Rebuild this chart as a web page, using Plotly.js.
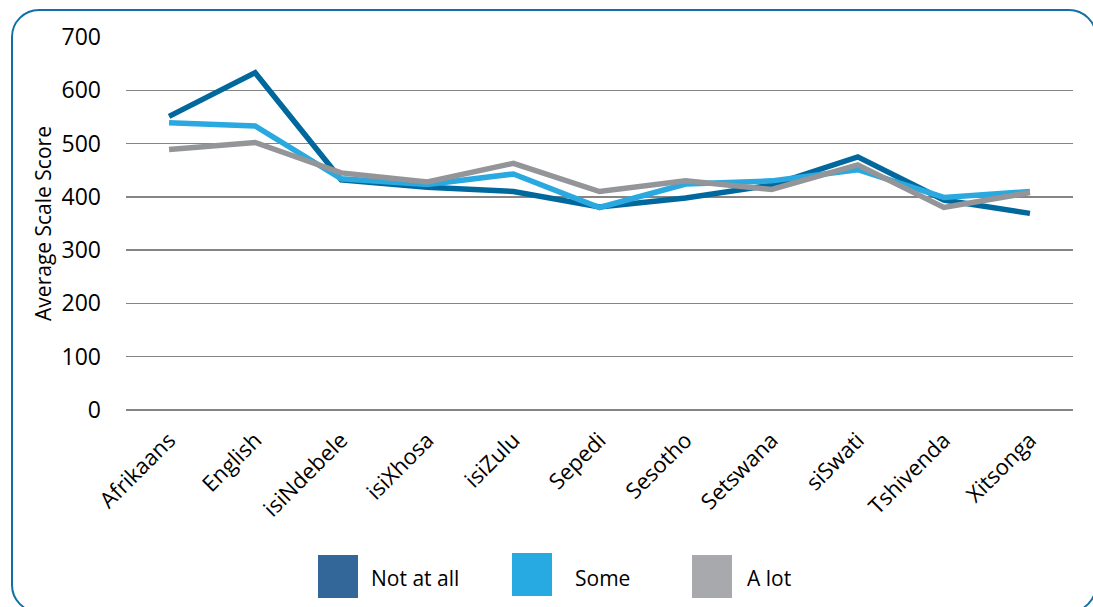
<!DOCTYPE html>
<html>
<head>
<meta charset="utf-8">
<script src="https://cdn.plot.ly/plotly-3.0.1.min.js"></script>
<style>
  html, body { margin: 0; padding: 0; background: #fff; overflow: hidden; }
  #frame { position: absolute; left: 11px; top: 9px; width: 1082px; height: 600px;
           border: 2.5px solid #1170A6; border-radius: 28px; }
  #chart { position: absolute; left: 0; top: 0; width: 1093px; height: 607px; }
</style>
</head>
<body>
<div id="frame"></div>
<div id="chart"></div>
<script>
const categories = ["Afrikaans", "English", "isiNdebele", "isiXhosa", "isiZulu", "Sepedi",
                    "Sesotho", "Setswana", "siSwati", "Tshivenda", "Xitsonga"];
const notAtAll = [551, 633, 432, 418, 410, 381, 398, 422, 475, 394, 369];
const some     = [539, 533, 434, 423, 443, 380, 424, 430, 451, 399, 410];
const aLot     = [489, 502, 445, 428, 463, 410, 430, 414, 460, 380, 408];
const seriesNames = ["Not at all", "Some", "A lot"];
const lineColors = ["#00689D", "#29A9E0", "#939598"];
const swatchColors = ["#336699", "#27AAE1", "#A7A9AC"];
const yTicks = [0, 100, 200, 300, 400, 500, 600, 700];

const font = "Open Sans, Noto Sans, sans-serif";
const seriesValues = [notAtAll, some, aLot];
const traces = seriesValues.map((vals, i) => ({
  type: "scatter", mode: "lines", x: categories, y: vals, name: seriesNames[i],
  line: { color: lineColors[i], width: 5.5 }, showlegend: false, hoverinfo: "skip"
}));

// Custom legend with large square swatches (paper coordinates)
const W = 1093, H = 607;
const legendSwatchX = [318, 512, 692];
const legendSwatchY = [555, 553, 555];
const legendTextX = [369, 573, 745];
const shapes = [], annotations = [];
for (let i = 0; i < 3; i++) {
  shapes.push({ type: "rect", xref: "paper", yref: "paper",
    x0: (legendSwatchX[i] - 126) / (1073 - 126), x1: (legendSwatchX[i] + 40 - 126) / (1073 - 126),
    y0: (410 - legendSwatchY[i]) / (410 - 37), y1: (410 - legendSwatchY[i] - 43) / (410 - 37),
    fillcolor: swatchColors[i], line: { width: 0 } });
  annotations.push({ xref: "paper", yref: "paper",
    x: (legendTextX[i] - 126) / (1073 - 126), y: (410 - 578) / (410 - 37),
    xanchor: "left", yanchor: "middle", showarrow: false, text: seriesNames[i],
    font: { family: font, size: 21, color: "#000" } });
}

const layout = {
  width: W, height: H,
  margin: { l: 126, r: 20, t: 37, b: 197 },
  paper_bgcolor: "rgba(0,0,0,0)", plot_bgcolor: "rgba(0,0,0,0)",
  xaxis: { type: "category", tickangle: -45, showgrid: false, zeroline: false,
    showline: false, ticks: "", ticklabelstandoff: 12,
    tickfont: { family: font, size: 22, color: "#000" },
    range: [-0.5, categories.length - 0.5], fixedrange: true },
  yaxis: { range: [0, 700], tickvals: yTicks, ticktext: yTicks.map(String),
    showgrid: true, gridcolor: "#858585", gridwidth: 1.5, zeroline: true,
    zerolinecolor: "#858585", zerolinewidth: 1.5, showline: false, ticks: "",
    ticklabelstandoff: 24,
    tickfont: { family: font, size: 23, color: "#000" },
    title: { text: "Average Scale Score", font: { family: font, size: 21, color: "#000" }, standoff: 4 },
    fixedrange: true },
  shapes: shapes, annotations: annotations, showlegend: false
};
Plotly.newPlot("chart", traces, layout, { displayModeBar: false, staticPlot: true });
</script>
</body>
</html>
